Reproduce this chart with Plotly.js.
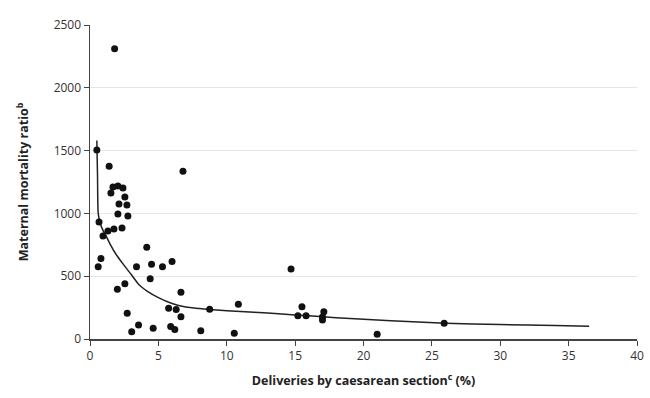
<!DOCTYPE html>
<html>
<head>
<meta charset="utf-8">
<script src="https://cdn.plot.ly/plotly-3.0.1.min.js"></script>
<style>html,body{margin:0;padding:0;background:#fff;}#chart{width:650px;height:398px;}</style>
</head>
<body>
<div id="chart"></div>
<script>
// Observed countries: caesarean rate (%) and maternal mortality ratio
const csRate = [1.8, 0.5, 1.4, 6.8,
  1.68, 2.04, 2.41, 1.53, 2.55, 2.12, 2.70, 2.04, 2.77, 2.34, 1.75, 1.31, 0.66, 0.95,
  0.8, 0.6, 3.4, 4.5, 5.3, 6.0, 4.15, 4.4, 2.0, 2.55, 6.65, 2.72, 5.75, 6.3, 6.65,
  3.55, 3.05, 4.62, 5.9, 6.2, 8.1, 8.75, 10.85, 10.55, 14.7, 15.5, 15.2, 15.8,
  17.1, 17.0, 17.0, 21.0, 25.9];
const mmRatio = [2310, 1505, 1375, 1335,
  1210, 1218, 1202, 1162, 1131, 1075, 1067, 995, 979, 884, 876, 860, 932, 820,
  640, 575, 576, 595, 575, 618, 730, 480, 396, 440, 372, 205, 244, 235, 178,
  111, 58, 85, 100, 75, 66, 236, 276, 45, 557, 257, 186, 186,
  217, 175, 151, 37, 125];

// Fitted curve
const fitX = [0.5, 0.55, 0.6, 0.75, 0.95, 1.2, 1.5, 1.9, 2.4, 3.0, 3.6, 4.2, 5.0, 6.0, 7.0, 8.0, 9.0, 11.0, 13.0, 15.0, 18.0, 22.0, 26.0, 30.0, 34.0, 36.5];
const fitY = [1580, 1300, 1000, 920, 865, 815, 750, 675, 600, 515, 430, 380, 330, 283, 255, 242, 232, 218, 207, 192, 170, 146, 125, 115, 107, 102];

const xTicks = [0, 5, 10, 15, 20, 25, 30, 35, 40];
const yTicks = [0, 500, 1000, 1500, 2000, 2500];

const traces = [
  {x: fitX, y: fitY, mode: 'lines', type: 'scatter', line: {color: '#222', width: 1.5, shape: 'spline', smoothing: 0.6}, hoverinfo: 'skip'},
  {x: csRate, y: mmRatio, mode: 'markers', type: 'scatter', marker: {color: '#111', size: 7}}
];

const fontFam = '"Open Sans", "Liberation Sans", sans-serif';
const layout = {
  width: 650, height: 398,
  margin: {l: 90, r: 13, t: 25, b: 59},
  paper_bgcolor: '#fff', plot_bgcolor: '#fff',
  showlegend: false,
  font: {family: fontFam, size: 12, color: '#333'},
  xaxis: {
    range: [0, 40], tickvals: xTicks, ticktext: xTicks.map(String),
    showgrid: false, zeroline: false, showline: true, linecolor: '#444', linewidth: 1.5,
    ticks: 'outside', ticklen: 5, tickcolor: '#444', tickfont: {size: 12, color: '#333'},
    title: {text: 'Deliveries by caesarean section<sup>c</sup> (%)', font: {size: 12.5, color: '#222', family: '"Open Sans", sans-serif', weight: 'bold'}, standoff: 13}
  },
  yaxis: {
    range: [0, 2500], tickvals: yTicks, ticktext: yTicks.map(String),
    showgrid: true, gridcolor: '#e6e6e6', gridwidth: 1, zeroline: false,
    showline: true, linecolor: '#444', linewidth: 1.5,
    ticks: 'outside', ticklen: 5, tickcolor: '#444', tickfont: {size: 12, color: '#333'},
    title: {text: 'Maternal mortality ratio<sup>b</sup>', font: {size: 12.5, color: '#222', family: '"Open Sans", sans-serif', weight: 'bold'}, standoff: 22}
  }
};

Plotly.newPlot('chart', traces, layout, {displayModeBar: false, staticPlot: true});
</script>
</body>
</html>
